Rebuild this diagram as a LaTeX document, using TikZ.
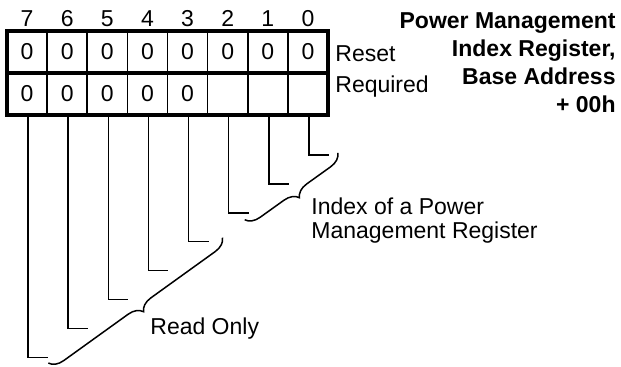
\documentclass[tikz,border=0pt]{standalone}
\usepackage{fontspec}
\setmainfont{Liberation Sans}
\usetikzlibrary{decorations.pathreplacing}

\begin{document}
\begin{tikzpicture}[x=0.5pt, y=-0.5pt,
  txt/.style={inner sep=0pt, font=\fontsize{11.5}{12}\selectfont},
  ttl/.style={inner sep=0pt, align=right, font=\fontsize{11.5}{14}\selectfont\bfseries},
  cell/.style={draw, line width=0.8pt, outer sep=0pt, minimum width=20.06pt,
               minimum height=21pt, inner sep=0pt, font=\fontsize{11.5}{12}\selectfont},
  lead/.style={line width=0.75pt},
  brc/.style={line width=0.75pt, decorate, decoration={brace, amplitude=7pt}}
]
\useasboundingbox (0,0) rectangle (621,367);
% register cells, bit 7 on the left
\foreach \b/\r/\q in {7/0/0, 6/0/0, 5/0/0, 4/0/0, 3/0/0, 2/0/, 1/0/, 0/0/} {
  \node[cell] (rst\b) at ({27.06+40.125*(7-\b)}, 52) {\r};
  \node[cell] (req\b) at ({27.06+40.125*(7-\b)}, 94) {\q};
  \node[txt, anchor=base] (bit\b) at ({27.06+40.125*(7-\b)}, 27) {\b};
  \coordinate (tk\b) at ({48+40.125*(7-\b)}, {155+28.9*\b});
  \draw[lead] ([xshift=0.5pt]req\b.south) |- (tk\b);
}
\draw[line width=2.2pt] (rst7.north west) rectangle (req0.south east);
\draw[line width=2.2pt] (rst7.south west) -- (rst0.south east);
\node[txt, anchor=base west] (reset) at (335,62) {Reset};
\node[txt, anchor=base west] (required) at (335,93) {Required};
\node[ttl, anchor=north east] (title) at (616,12)
  {Power Management\\Index Register,\\Base Address\\+ 00h};
% braces
\draw[brc] ([shift={(9,-2)}]tk0) -- ([shift={(-4,7)}]tk2);
\draw[brc] ([shift={(14,-4)}]tk3) -- ([shift={(0,6)}]tk7);
\node[txt, anchor=north west, align=left] (index) at (311,197)
  {Index of a Power\\Management Register};
\node[txt, anchor=base west] (ronly) at (150,335) {Read Only};
\end{tikzpicture}
\end{document}
